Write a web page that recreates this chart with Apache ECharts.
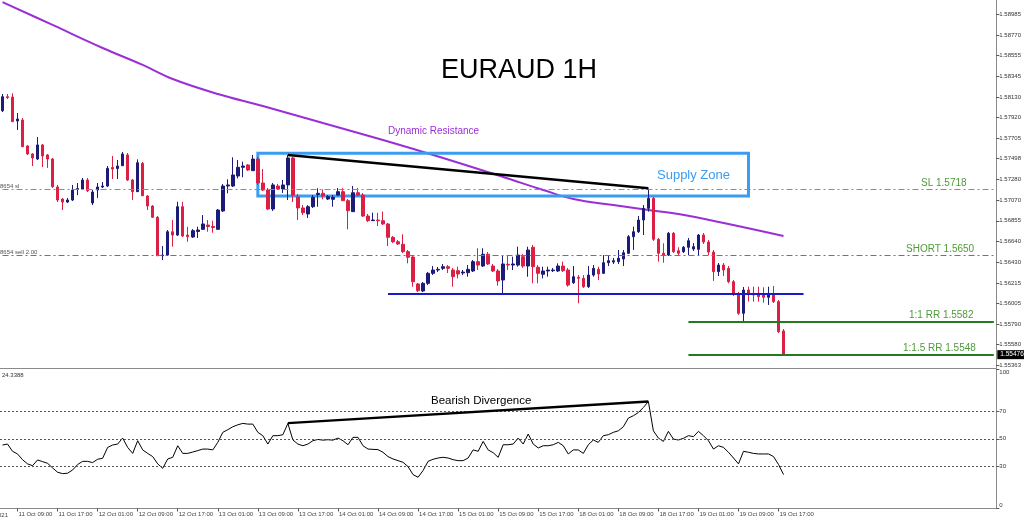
<!DOCTYPE html>
<html><head><meta charset="utf-8">
<script src="https://cdn.jsdelivr.net/npm/echarts@6/dist/echarts.min.js"></script>
<style>html,body{margin:0;padding:0;background:#fff;}#c{width:1024px;height:521px;}</style>
</head><body><div id="c"></div>
<script>
// ---------- DATA ----------
const opens = [1.57989,1.58133,1.58130,1.57883,1.57893,1.57625,1.57543,1.57491,1.57636,1.57533,
1.57491,1.57203,1.57079,1.57048,1.57069,1.57177,1.57182,1.57275,1.57038,1.57172,
1.57203,1.57213,1.57404,1.57393,1.57422,1.57533,1.57275,1.57155,1.57447,1.57110,
1.57007,1.56891,1.56495,1.56502,1.56742,1.56708,1.57000,1.56708,1.56688,1.56745,
1.56767,1.56811,1.56796,1.56767,1.56956,1.57213,1.57213,1.57316,1.57406,1.57430,
1.57371,1.57491,1.57244,1.57172,1.56976,1.57213,1.57182,1.57224,1.57502,1.57100,
1.56987,1.56925,1.57000,1.57126,1.57138,1.57079,1.57076,1.57120,1.57155,1.57062,
1.56949,1.57144,1.57120,1.56904,1.56856,1.56863,1.56856,1.56822,1.56685,1.56639,
1.56613,1.56537,1.56482,1.56204,1.56132,1.56211,1.56314,1.56348,1.56365,1.56382,
1.56348,1.56341,1.56317,1.56320,1.56338,1.56434,1.56389,1.56510,1.56389,1.56338,
1.56245,1.56407,1.56399,1.56399,1.56485,1.56389,1.56582,1.56376,1.56304,1.56338,
1.56341,1.56338,1.56389,1.56348,1.56217,1.56273,1.56262,1.56176,1.56296,1.56355,
1.56314,1.56423,1.56430,1.56434,1.56461,1.56520,1.56691,1.56742,1.56863,1.56983,
1.57086,1.56664,1.56520,1.56502,1.56726,1.56547,1.56537,1.56582,1.56564,1.56561,
1.56708,1.56636,1.56533,1.56331,1.56399,1.56365,1.56228,1.56101,1.55902,1.56142,
1.56108,1.56108,1.56101,1.56067,1.56101,1.56022,1.55720];
const highs = [1.58161,1.58161,1.58168,1.57965,1.57914,1.57636,1.57553,1.57718,1.57646,1.57543,
1.57502,1.57224,1.57090,1.57090,1.57224,1.57244,1.57296,1.57296,1.57172,1.57244,
1.57254,1.57419,1.57522,1.57481,1.57563,1.57553,1.57285,1.57488,1.57460,1.57120,
1.57017,1.56904,1.56595,1.56760,1.56863,1.57051,1.57051,1.56794,1.56770,1.56794,
1.56914,1.56863,1.56856,1.56976,1.57234,1.57282,1.57509,1.57481,1.57464,1.57440,
1.57533,1.57512,1.57388,1.57193,1.57244,1.57234,1.57275,1.57533,1.57512,1.57131,
1.57017,1.57017,1.57120,1.57190,1.57179,1.57120,1.57120,1.57193,1.57193,1.57079,
1.57213,1.57193,1.57141,1.56925,1.56938,1.56938,1.56949,1.56832,1.56698,1.56657,
1.56716,1.56554,1.56502,1.56214,1.56224,1.56327,1.56389,1.56379,1.56410,1.56399,
1.56369,1.56382,1.56348,1.56399,1.56451,1.56572,1.56572,1.56533,1.56410,1.56358,
1.56502,1.56502,1.56485,1.56588,1.56513,1.56588,1.56606,1.56399,1.56382,1.56382,
1.56369,1.56417,1.56434,1.56369,1.56389,1.56296,1.56296,1.56389,1.56399,1.56382,
1.56502,1.56502,1.56472,1.56554,1.56554,1.56708,1.56794,1.56904,1.57017,1.57187,
1.57100,1.56678,1.56623,1.56739,1.56739,1.56582,1.56595,1.56678,1.56626,1.56719,
1.56729,1.56657,1.56554,1.56420,1.56420,1.56389,1.56245,1.56121,1.56173,1.56176,
1.56176,1.56176,1.56170,1.56176,1.56183,1.56039,1.55740];
const lows = [1.57975,1.58109,1.57872,1.57790,1.57615,1.57533,1.57419,1.57481,1.57409,1.57399,
1.57193,1.57048,1.56966,1.57038,1.57059,1.57120,1.57172,1.57151,1.57017,1.57090,
1.57193,1.57203,1.57285,1.57285,1.57419,1.57265,1.57069,1.57151,1.57110,1.56966,
1.56884,1.56492,1.56451,1.56492,1.56588,1.56698,1.56688,1.56639,1.56678,1.56678,
1.56760,1.56742,1.56732,1.56760,1.56945,1.57138,1.57203,1.57292,1.57303,1.57368,
1.57368,1.57224,1.57162,1.56966,1.56956,1.57172,1.57141,1.57069,1.57048,1.56863,
1.56914,1.56884,1.56987,1.57000,1.57076,1.57069,1.57000,1.57110,1.57059,1.56767,
1.56945,1.57110,1.56894,1.56842,1.56853,1.56801,1.56811,1.56595,1.56626,1.56606,
1.56523,1.56417,1.56176,1.56121,1.56121,1.56193,1.56296,1.56327,1.56348,1.56317,
1.56176,1.56262,1.56296,1.56279,1.56327,1.56348,1.56379,1.56399,1.56327,1.56186,
1.56091,1.56348,1.56348,1.56382,1.56369,1.56279,1.56211,1.56211,1.56262,1.56279,
1.56327,1.56327,1.56327,1.56176,1.56204,1.56005,1.56163,1.56163,1.56279,1.56245,
1.56307,1.56389,1.56410,1.56410,1.56389,1.56513,1.56554,1.56729,1.56708,1.56949,
1.56647,1.56434,1.56423,1.56492,1.56523,1.56502,1.56523,1.56502,1.56544,1.56502,
1.56616,1.56502,1.56235,1.56286,1.56286,1.56211,1.56080,1.55885,1.55816,1.56022,
1.56022,1.56022,1.56011,1.55988,1.56008,1.55699,1.55470];
const closes = [1.58133,1.58125,1.57876,1.57903,1.57618,1.57543,1.57502,1.57636,1.57522,1.57491,
1.57206,1.57069,1.57048,1.57069,1.57172,1.57187,1.57275,1.57165,1.57151,1.57203,
1.57213,1.57395,1.57388,1.57419,1.57543,1.57275,1.57155,1.57453,1.57113,1.57007,
1.56891,1.56495,1.56502,1.56742,1.56708,1.57000,1.56698,1.56691,1.56753,1.56760,
1.56822,1.56796,1.56786,1.56966,1.57213,1.57224,1.57327,1.57406,1.57419,1.57378,
1.57491,1.57244,1.57172,1.56976,1.57224,1.57182,1.57224,1.57502,1.57120,1.56987,
1.56938,1.57000,1.57097,1.57138,1.57110,1.57103,1.57097,1.57155,1.57062,1.56959,
1.57144,1.57120,1.56904,1.56856,1.56863,1.56856,1.56822,1.56685,1.56639,1.56616,
1.56537,1.56479,1.56228,1.56135,1.56211,1.56314,1.56348,1.56355,1.56382,1.56365,
1.56279,1.56307,1.56327,1.56355,1.56434,1.56399,1.56510,1.56410,1.56338,1.56235,
1.56410,1.56399,1.56410,1.56502,1.56389,1.56554,1.56382,1.56314,1.56338,1.56348,
1.56348,1.56389,1.56341,1.56193,1.56279,1.56262,1.56176,1.56296,1.56365,1.56307,
1.56423,1.56444,1.56444,1.56469,1.56526,1.56691,1.56742,1.56863,1.56983,1.57086,
1.56664,1.56520,1.56502,1.56726,1.56537,1.56520,1.56582,1.56650,1.56588,1.56708,
1.56636,1.56533,1.56331,1.56399,1.56348,1.56228,1.56101,1.55902,1.56142,1.56101,
1.56091,1.56073,1.56067,1.56108,1.56022,1.55713,1.55476];
// moving average ("Dynamic Resistance"), read at selected bars: [bar index, value]
const maPoints = [[0,1.59108],[10,1.58872],[20,1.58635],[28,1.58460],[34,1.58315],[43,1.58161],
[52,1.58037],[64,1.57862],[76,1.57687],[88,1.57502],[100,1.57306],[108,1.57172],[114,1.57079],
[122,1.57017],[129,1.56966],[135,1.56925],[145,1.56822],[156,1.56698]];
const rsi = [45.5,46.2,41,39.1,35,32,30.7,34.8,33.6,32.4,
29.1,26,25,25.3,27.6,31.5,33.8,33.8,32.9,35.3,
36,43.8,45.5,46.2,50.5,43.8,39.5,48.6,42,39.5,
37.2,32,28.8,35.5,36.7,45,39.5,39.5,40.5,41.5,
42.6,42.6,42,47.4,54.6,56.5,58.6,60,61,60.5,
60.5,54.6,52.2,46.2,52.2,52.2,52.9,61,49.1,46.2,
45,46.2,48.6,49.5,49,49.3,49,50.5,48.6,45.7,
51,51,45,42.6,42.4,42.2,40.3,37.2,35.5,34.3,
33.1,30,24.3,22.4,27.2,33.8,35.3,36.2,36.7,36.2,
35,34.3,34.3,36.2,42,41,48.1,42,40,36.7,
45.7,45.7,46.2,50.5,46.2,53.4,46.2,43.4,45,45,
45.7,47.4,45,39.1,42,42,39.5,45.7,49.1,47.4,
52.2,52.9,54.6,55.7,58.6,64.8,66.5,68.8,72.4,76.7,
55.7,50.5,48.1,55.3,49.8,49.1,50.3,52.2,51.5,55.3,
52.2,48.6,42.6,45,43.8,40.3,36.2,32,41,40.3,
39.5,39.1,39.1,39.1,37.2,31.5,24.3388];
const priceTicks = [1.58985,1.58770,1.58555,1.58345,1.58130,1.57920,1.57705,1.57498,1.57280,
1.57070,1.56855,1.56640,1.56430,1.56215,1.56005,1.55790,1.55580,1.55363];
const rsiTicks = [0,30,50,70,100];
const levels = {sl:1.5718, short:1.5650, rr1:1.5582, rr15:1.5548, support:1.56101};
const supplyZone = {from:51, to:149, top:1.5755, bottom:1.5711};
const priceTrend = [[57,1.57533],[129,1.57190]];
const rsiTrend = [[57,61.2],[129,76.7]];
const slotCount = 199;  // bars incl. empty right shift
const MONTHS=['Jan','Feb','Mar','Apr','May','Jun','Jul','Aug','Sep','Oct','Nov','Dec'];
function hourlyCategories(startMs,count){
  const out=[];let t=startMs;
  while(out.length<count){const d=new Date(t);const wd=d.getUTCDay();
    if(wd!==0&&wd!==6){out.push(d.getUTCDate()+' '+MONTHS[d.getUTCMonth()]+' '+String(d.getUTCHours()).padStart(2,'0')+':00');}
    t+=3600000;}
  return out;}
const categories = hourlyCategories(Date.UTC(2021,9,11,6), slotCount);

// ---------- CHART ----------
const FONT='"Liberation Sans", Arial, sans-serif';
const chart = echarts.init(document.getElementById('c'),null,{renderer:'canvas'});
const candleData = opens.map((o,i)=>[o,closes[i],lows[i],highs[i]]);
const lastClose = closes[closes.length-1];
const labelIdx = (i)=> i>=3 && i<=155 && (i-3)%8===0;
const BULL='#1c1c78', BEAR='#dc1f45';
const dashDot=[6,3,2,3];
const hLine = (v,style)=>[{coord:[0,v],lineStyle:style},{coord:[slotCount-1,v]}];
chart.setOption({
  animation:false,
  textStyle:{fontFamily:FONT},
  grid:[{left:-2.26,top:0,width:998.6,height:368},{left:-2.26,top:369,width:998.6,height:139.5}],
  xAxis:[
    {gridIndex:0,type:'category',data:categories,boundaryGap:true,
     axisLine:{show:true,lineStyle:{color:'#8a8a8a',width:1}},axisTick:{show:false},axisLabel:{show:false},splitLine:{show:false}},
    {gridIndex:1,type:'category',data:categories,boundaryGap:true,
     axisLine:{show:true,lineStyle:{color:'#8a8a8a',width:1}},
     axisTick:{show:true,alignWithLabel:true,interval:labelIdx,length:3,lineStyle:{color:'#555'}},
     axisLabel:{show:true,interval:labelIdx,fontSize:6,color:'#444',align:'left',margin:3,padding:[0,0,0,1]},
     splitLine:{show:false}}
  ],
  yAxis:[
    {gridIndex:0,type:'value',position:'right',min:1.553386,max:1.59129,
     axisLine:{show:true,lineStyle:{color:'#8a8a8a'}},
     axisTick:{show:true,customValues:priceTicks,length:3,lineStyle:{color:'#555'}},
     axisLabel:{show:true,customValues:priceTicks,formatter:v=>v.toFixed(5),fontSize:6,color:'#333',margin:3},
     splitLine:{show:false}},
    {gridIndex:1,type:'value',position:'right',min:0,max:100,
     axisLine:{show:true,lineStyle:{color:'#8a8a8a'}},
     axisTick:{show:true,customValues:rsiTicks,length:3,lineStyle:{color:'#555'}},
     axisLabel:{show:true,customValues:rsiTicks,fontSize:6,color:'#333',margin:3,
                verticalAlignMaxLabel:'top',verticalAlignMinLabel:'bottom'},
     splitLine:{show:false}}
  ],
  series:[
    {type:'line',name:'MA',xAxisIndex:0,yAxisIndex:0,data:maPoints,smooth:0.4,symbol:'none',
     lineStyle:{color:'#9b2fd6',width:2},z:1},
    {type:'candlestick',name:'EURAUD',xAxisIndex:0,yAxisIndex:0,data:candleData,barWidth:3,
     itemStyle:{color:BULL,color0:BEAR,borderColor:BULL,borderColor0:BEAR,borderWidth:1},z:3,
     markArea:{silent:true,z:2,label:{show:false},
       data:[[{coord:[supplyZone.from,supplyZone.top],itemStyle:{color:'rgba(0,0,0,0)',borderColor:'#3b9cf0',borderWidth:3}},
              {coord:[supplyZone.to,supplyZone.bottom]}]]},
     markLine:{silent:true,precision:6,symbol:['none','none'],label:{show:false},z:4,
       data:[
         hLine(levels.sl,{color:'#f0683a',type:dashDot,width:1}),
         hLine(levels.short,{color:'#3f9a3f',type:dashDot,width:1}),
         [{coord:[137,levels.rr1],lineStyle:{color:'#237a23',type:'solid',width:2}},{coord:[slotCount-1,levels.rr1]}],
         [{coord:[137,levels.rr15],lineStyle:{color:'#237a23',type:'solid',width:2}},{coord:[slotCount-1,levels.rr15]}],
         [{coord:[77,levels.support],lineStyle:{color:'#1a1ac8',type:'solid',width:2}},{coord:[160,levels.support]}],
         [{coord:priceTrend[0],lineStyle:{color:'#000',type:'solid',width:2.5}},{coord:priceTrend[1]}],
         {yAxis:lastClose,lineStyle:{color:'rgba(0,0,0,0)',width:0},
          label:{show:true,position:'end',distance:1,formatter:lastClose.toFixed(5),color:'#fff',backgroundColor:'#000',
                 padding:[1,3,1,3],fontSize:6.5}}
       ]}},
    {type:'line',name:'RSI',xAxisIndex:1,yAxisIndex:1,data:rsi,symbol:'none',lineStyle:{color:'#000',width:1},
     markLine:{silent:true,precision:6,symbol:['none','none'],label:{show:false},
       data:[
         {yAxis:70,lineStyle:{color:'#555',type:[2,2],width:1}},
         {yAxis:50,lineStyle:{color:'#555',type:[2,2],width:1}},
         {yAxis:30,lineStyle:{color:'#555',type:[2,2],width:1}},
         [{coord:rsiTrend[0],lineStyle:{color:'#000',type:'solid',width:2.5}},{coord:rsiTrend[1]}]
       ]}}
  ]
});

// ---------- TEXT ANNOTATIONS ----------
const yOf = v => chart.convertToPixel({gridIndex:0},[0,v])[1];
const txt = (x,y,text,size,fill,align)=>({type:'text',x:x,y:y,silent:true,z:100,
  style:{text:text,font:size+'px '+FONT,fill:fill,textAlign:align||'left',textVerticalAlign:'middle'}});
const GREEN='#4f9a3a';
chart.setOption({graphic:[
  txt(519,71,'EURAUD 1H',27,'#000','center'),
  txt(388,131,'Dynamic Resistance',10,'#9b2fd6'),
  txt(657,175,'Supply Zone',13,'#3b9cf0'),
  txt(431,401,'Bearish Divergence',11.5,'#000'),
  txt(921,yOf(levels.sl)-6,'SL 1.5718',10,GREEN),
  txt(906,yOf(levels.short)-6,'SHORT 1.5650',10,GREEN),
  txt(909,yOf(levels.rr1)-6,'1:1 RR 1.5582',10,GREEN),
  txt(903,yOf(levels.rr15)-6,'1:1.5 RR 1.5548',10,GREEN),
  txt(0,yOf(levels.sl)-3,'8654 sl',6,'#555'),
  txt(0,yOf(levels.short)-3,'8654 sell 2.00',6,'#555'),
  txt(2,375,'24.3388',6,'#333'),
  txt(8,515,'11 Oct 2021',6,'#444','right')
]});
</script></body></html>
